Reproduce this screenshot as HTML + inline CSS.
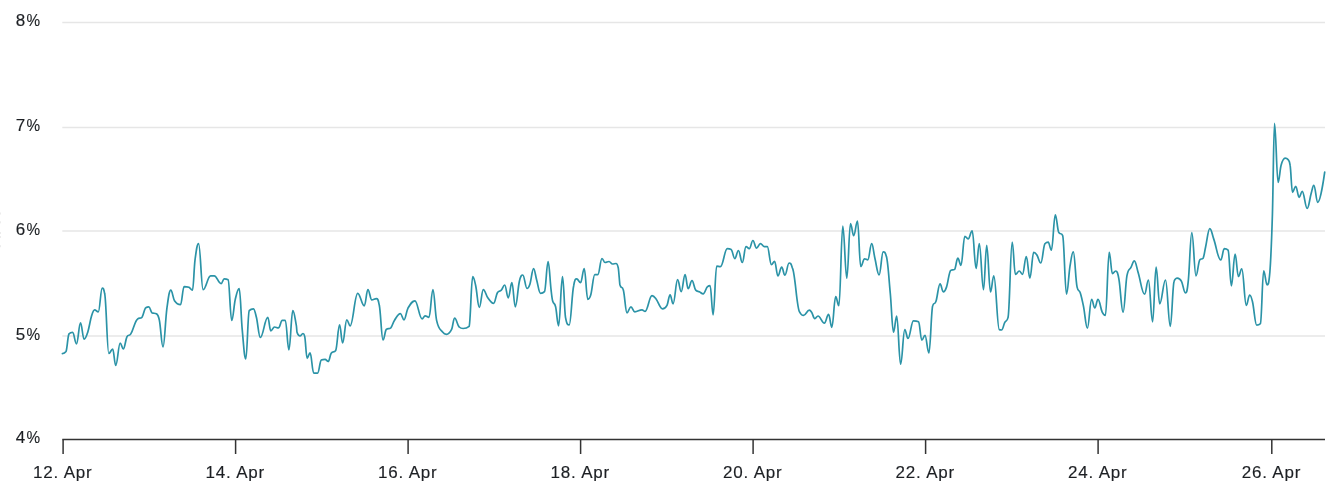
<!DOCTYPE html>
<html><head><meta charset="utf-8"><style>
html,body{margin:0;padding:0;background:#fff;width:1340px;height:498px;overflow:hidden}
svg{display:block;will-change:transform;font-family:"Liberation Sans",sans-serif}
</style></head><body>
<svg width="1340" height="498" viewBox="0 0 1340 498">
<g>
<path d="M62.3 22.56H1325" stroke="#e6e6e6" stroke-width="1.5"/>
<path d="M62.3 127.56H1325" stroke="#e6e6e6" stroke-width="1.5"/>
<path d="M62.3 231.06H1325" stroke="#e6e6e6" stroke-width="1.5"/>
<path d="M62.3 336.06H1325" stroke="#e6e6e6" stroke-width="1.5"/>
<path d="M62.3 439.56H1325" stroke="#333" stroke-width="1.5"/>
<path d="M63.10 439.56V454" stroke="#333" stroke-width="1.5"/>
<path d="M235.60 439.56V454" stroke="#333" stroke-width="1.5"/>
<path d="M408.10 439.56V454" stroke="#333" stroke-width="1.5"/>
<path d="M580.60 439.56V454" stroke="#333" stroke-width="1.5"/>
<path d="M753.10 439.56V454" stroke="#333" stroke-width="1.5"/>
<path d="M925.60 439.56V454" stroke="#333" stroke-width="1.5"/>
<path d="M1098.10 439.56V454" stroke="#333" stroke-width="1.5"/>
<path d="M1271.80 439.56V454" stroke="#333" stroke-width="1.5"/>
<path d="M62.40 353.60 C62.40 353.60 64.56 353.60 66.00 351.50 C67.20 349.40 67.80 335.40 69.00 333.90 C70.44 332.40 71.16 332.40 72.60 332.40 C74.16 332.40 74.94 343.80 76.50 343.80 C78.10 343.80 78.90 322.80 80.50 322.80 C81.94 322.80 82.66 339.20 84.10 339.20 C85.54 339.20 86.26 336.89 87.70 332.40 C89.26 327.53 90.04 320.91 91.60 315.80 C92.80 311.87 93.40 309.80 94.60 309.80 C96.08 309.80 96.82 311.90 98.30 311.90 C99.86 311.90 100.64 288.10 102.20 288.10 C103.16 288.10 103.64 288.10 104.60 293.30 C106.28 298.50 107.12 353.50 108.80 353.50 C110.36 353.50 111.14 349.00 112.70 349.00 C113.90 349.00 114.50 365.50 115.70 365.50 C117.50 365.50 118.40 343.00 120.20 343.00 C121.44 343.00 122.06 349.00 123.30 349.00 C124.74 349.00 125.46 339.90 126.90 336.90 C128.46 333.90 129.24 336.50 130.80 333.90 C133.56 329.30 134.94 320.50 137.70 318.90 C139.38 317.30 140.22 318.90 141.90 317.30 C143.46 315.70 144.24 308.60 145.80 307.70 C147.04 306.80 147.66 306.80 148.90 306.80 C150.10 306.80 150.70 311.90 151.90 312.80 C153.70 313.70 154.60 312.80 156.40 313.70 C157.60 314.60 158.20 314.36 159.40 320.40 C160.84 327.64 161.56 346.90 163.00 346.90 C164.56 346.90 165.34 319.64 166.90 308.30 C168.46 296.96 169.24 290.20 170.80 290.20 C172.28 290.20 173.02 298.59 174.50 300.80 C176.90 304.39 178.10 304.70 180.50 304.70 C181.94 304.70 182.66 286.60 184.10 286.60 C186.02 286.60 186.98 286.60 188.90 287.20 C190.34 287.80 191.06 290.20 192.50 290.20 C193.50 290.20 194.00 267.74 195.00 260.10 C196.44 249.10 197.16 243.60 198.60 243.60 C200.40 243.60 201.30 289.60 203.10 289.60 C206.10 289.60 207.60 275.80 210.60 275.80 C212.04 275.80 212.76 275.80 214.20 275.80 C216.96 275.80 218.34 283.60 221.10 283.60 C222.34 283.60 222.96 278.80 224.20 278.80 C225.76 278.80 226.54 278.80 228.10 279.70 C229.54 280.60 230.26 320.40 231.70 320.40 C233.14 320.40 233.86 305.39 235.30 299.30 C236.86 292.71 237.64 288.70 239.20 288.70 C240.40 288.70 241.00 316.64 242.20 329.40 C243.64 344.72 244.36 358.90 245.80 358.90 C247.16 358.90 247.84 312.50 249.20 310.70 C250.88 308.90 251.72 308.90 253.40 308.90 C254.60 308.90 255.20 312.33 256.40 317.30 C257.96 323.77 258.74 337.50 260.30 337.50 C263.30 337.50 264.80 317.30 267.80 317.30 C269.00 317.30 269.60 330.90 270.80 330.90 C272.28 330.90 273.02 327.00 274.50 327.00 C276.06 327.00 276.84 327.90 278.40 327.90 C279.96 327.90 280.74 320.40 282.30 320.40 C283.50 320.40 284.10 320.40 285.30 320.40 C286.74 320.40 287.46 349.90 288.90 349.90 C290.46 349.90 291.24 310.70 292.80 310.70 C294.24 310.70 294.96 318.43 296.40 325.80 C296.64 327.03 296.76 331.52 297.00 332.20 C298.20 335.60 298.80 336.00 300.00 336.00 C301.20 336.00 301.80 333.50 303.00 333.50 C303.64 333.50 303.96 333.50 304.60 336.00 C305.60 338.50 306.10 358.30 307.10 358.30 C308.30 358.30 308.90 352.90 310.10 352.90 C311.54 352.90 312.26 373.10 313.70 373.10 C315.26 373.10 316.04 373.10 317.60 373.10 C319.08 373.10 319.82 360.70 321.30 360.00 C322.82 359.30 323.58 359.30 325.10 359.30 C326.34 359.30 326.96 361.50 328.20 361.50 C329.40 361.50 330.00 355.06 331.20 353.30 C333.00 350.66 333.90 353.30 335.70 350.50 C337.26 347.70 338.04 324.90 339.60 324.90 C340.80 324.90 341.40 343.00 342.60 343.00 C344.28 343.00 345.12 319.80 346.80 319.80 C348.12 319.80 348.78 325.80 350.10 325.80 C353.14 325.80 354.66 293.30 357.70 293.30 C360.34 293.30 361.66 305.90 364.30 305.90 C365.74 305.90 366.46 289.60 367.90 289.60 C369.46 289.60 370.24 299.90 371.80 299.90 C373.60 299.90 374.50 298.70 376.30 298.70 C377.50 298.70 378.10 298.70 379.30 305.30 C380.78 311.90 381.52 339.90 383.00 339.90 C384.32 339.90 384.98 330.90 386.30 329.40 C388.10 327.90 389.00 329.40 390.80 327.90 C392.24 326.40 392.96 322.53 394.40 320.40 C396.80 316.85 398.00 313.70 400.40 313.70 C401.84 313.70 402.56 319.80 404.00 319.80 C405.56 319.80 406.34 311.02 407.90 308.30 C410.70 303.42 412.10 300.80 414.90 300.80 C417.78 300.80 419.22 318.90 422.10 318.90 C423.30 318.90 423.90 315.80 425.10 315.80 C426.66 315.80 427.44 317.30 429.00 317.30 C430.56 317.30 431.34 289.60 432.90 289.60 C434.38 289.60 435.12 313.93 436.60 320.40 C439.00 330.89 440.20 328.63 442.60 332.00 C444.16 334.19 444.94 334.30 446.50 334.30 C448.54 334.30 449.56 333.51 451.60 329.40 C452.80 326.99 453.40 318.00 454.60 318.00 C456.44 318.00 457.36 325.50 459.20 327.00 C460.76 328.50 461.54 328.50 463.10 328.50 C465.50 328.50 466.70 328.50 469.10 326.40 C470.54 324.30 471.26 276.70 472.70 276.70 C473.90 276.70 474.50 280.12 475.70 285.70 C477.14 292.40 477.86 307.40 479.30 307.40 C480.90 307.40 481.70 289.60 483.30 289.60 C485.10 289.60 486.00 295.39 487.80 297.80 C490.12 300.91 491.28 303.40 493.60 303.40 C495.12 303.40 495.88 295.20 497.40 292.70 C498.96 290.20 499.74 291.85 501.30 290.20 C502.66 288.77 503.34 285.00 504.70 285.00 C506.14 285.00 506.86 297.80 508.30 297.80 C509.74 297.80 510.46 282.70 511.90 282.70 C513.26 282.70 513.94 306.80 515.30 306.80 C516.94 306.80 517.76 288.15 519.40 281.20 C520.76 275.43 521.44 275.00 522.80 275.00 C524.48 275.00 525.32 288.40 527.00 288.40 C528.16 288.40 528.74 287.68 529.90 284.20 C531.38 279.76 532.12 268.60 533.60 268.60 C534.80 268.60 535.40 275.40 536.60 279.70 C538.16 285.28 538.94 293.30 540.50 293.30 C542.10 293.30 542.90 293.30 544.50 291.70 C545.94 290.10 546.66 261.60 548.10 261.60 C549.30 261.60 549.90 279.75 551.10 290.20 C551.70 295.43 552.00 298.59 552.60 300.80 C553.80 305.23 554.40 301.80 555.60 306.80 C556.80 311.80 557.40 325.80 558.60 325.80 C560.16 325.80 560.94 276.70 562.50 276.70 C563.70 276.70 564.30 309.70 565.50 317.30 C566.98 324.90 567.72 324.90 569.20 324.90 C571.00 324.90 571.90 292.60 573.70 285.70 C574.90 278.80 575.50 278.80 576.70 278.80 C578.26 278.80 579.04 282.70 580.60 282.70 C582.04 282.70 582.76 268.60 584.20 268.60 C585.64 268.60 586.36 299.30 587.80 299.30 C589.00 299.30 589.60 299.03 590.80 294.80 C592.40 289.15 593.20 274.60 594.80 274.60 C596.00 274.60 596.60 274.60 597.80 274.60 C599.48 274.60 600.32 258.50 602.00 258.50 C603.20 258.50 603.80 262.50 605.00 262.50 C606.60 262.50 607.40 261.50 609.00 261.50 C610.40 261.50 611.10 264.00 612.50 264.00 C613.90 264.00 614.60 263.50 616.00 263.50 C616.92 263.50 617.38 263.50 618.30 268.00 C618.90 272.50 619.20 278.20 619.80 284.20 C621.24 290.20 621.96 284.48 623.40 290.20 C624.84 295.92 625.56 312.80 627.00 312.80 C628.56 312.80 629.34 306.80 630.90 306.80 C632.46 306.80 633.24 311.90 634.80 311.90 C637.68 311.90 639.12 309.80 642.00 309.80 C643.24 309.80 643.86 311.30 645.10 311.30 C647.86 311.30 649.24 295.70 652.00 295.70 C653.56 295.70 654.34 296.74 655.90 298.70 C658.54 302.02 659.86 308.90 662.50 308.90 C664.30 308.90 665.20 308.64 667.00 305.30 C668.24 303.00 668.86 294.80 670.10 294.80 C671.30 294.80 671.90 303.80 673.10 303.80 C674.90 303.80 675.80 279.70 677.60 279.70 C679.04 279.70 679.76 291.70 681.20 291.70 C682.76 291.70 683.54 274.60 685.10 274.60 C686.30 274.60 686.90 288.70 688.10 288.70 C689.66 288.70 690.44 280.60 692.00 280.60 C693.48 280.60 694.22 288.70 695.70 290.20 C697.14 291.70 697.86 290.99 699.30 291.70 C700.86 292.47 701.64 293.90 703.20 293.90 C705.00 293.90 705.90 287.50 707.70 286.60 C708.66 285.70 709.14 285.70 710.10 285.70 C711.30 285.70 711.90 314.90 713.10 314.90 C714.54 314.90 715.26 266.10 716.70 266.10 C718.18 266.10 718.92 266.70 720.40 266.70 C723.16 266.70 724.54 248.70 727.30 248.70 C728.86 248.70 729.64 248.70 731.20 249.60 C732.64 250.50 733.36 258.60 734.80 258.60 C736.24 258.60 736.96 250.50 738.40 250.50 C739.96 250.50 740.74 262.50 742.30 262.50 C743.78 262.50 744.52 246.60 746.00 246.60 C747.32 246.60 747.98 248.70 749.30 248.70 C750.74 248.70 751.46 240.50 752.90 240.50 C754.34 240.50 755.06 248.10 756.50 248.10 C758.06 248.10 758.84 243.60 760.40 243.60 C761.96 243.60 762.74 246.60 764.30 246.60 C765.50 246.60 766.10 246.60 767.30 246.60 C768.94 246.60 769.76 264.60 771.40 264.60 C772.68 264.60 773.32 261.40 774.60 261.40 C775.92 261.40 776.58 275.90 777.90 275.90 C779.42 275.90 780.18 267.20 781.70 267.20 C782.98 267.20 783.62 275.20 784.90 275.20 C786.58 275.20 787.42 263.00 789.10 263.00 C790.38 263.00 791.02 263.00 792.30 267.80 C795.26 272.60 796.74 309.00 799.70 312.20 C801.26 315.40 802.04 315.40 803.60 315.40 C805.88 315.40 807.02 310.20 809.30 310.20 C810.22 310.20 810.68 310.79 811.60 312.20 C812.88 314.15 813.52 318.60 814.80 318.60 C816.08 318.60 816.72 316.00 818.00 316.00 C820.56 316.00 821.84 323.10 824.40 323.10 C826.08 323.10 826.92 314.40 828.60 314.40 C829.88 314.40 830.52 327.30 831.80 327.30 C833.36 327.30 834.14 296.70 835.70 296.70 C836.98 296.70 837.62 305.70 838.90 305.70 C840.46 305.70 841.24 226.10 842.80 226.10 C844.40 226.10 845.20 278.20 846.80 278.20 C848.28 278.20 849.02 223.50 850.50 223.50 C851.78 223.50 852.42 235.70 853.70 235.70 C855.22 235.70 855.98 221.20 857.50 221.20 C858.78 221.20 859.42 266.50 860.70 266.50 C862.26 266.50 863.04 258.80 864.60 258.80 C865.88 258.80 866.52 259.80 867.80 259.80 C869.36 259.80 870.14 243.70 871.70 243.70 C872.98 243.70 873.62 252.80 874.90 258.20 C876.58 265.28 877.42 274.90 879.10 274.90 C880.74 274.90 881.56 251.80 883.20 251.80 C884.48 251.80 885.12 251.80 886.40 256.60 C887.96 261.40 888.74 276.91 890.30 293.50 C891.58 307.11 892.22 332.10 893.50 332.10 C894.78 332.10 895.42 316.00 896.70 316.00 C898.26 316.00 899.04 364.20 900.60 364.20 C902.28 364.20 903.12 329.50 904.80 329.50 C906.08 329.50 906.72 338.50 908.00 338.50 C910.16 338.50 911.24 320.80 913.40 320.80 C915.48 320.80 916.52 320.80 918.60 321.80 C919.88 322.80 920.52 340.10 921.80 340.10 C923.08 340.10 923.72 335.30 925.00 335.30 C926.56 335.30 927.34 353.00 928.90 353.00 C930.42 353.00 931.18 309.80 932.70 305.70 C933.98 301.60 934.62 305.37 935.90 301.60 C937.58 296.65 938.42 283.90 940.10 283.90 C941.38 283.90 942.02 291.90 943.30 291.90 C944.58 291.90 945.22 290.82 946.50 287.10 C948.18 282.22 949.02 271.40 950.70 270.40 C952.26 269.40 953.04 270.40 954.60 269.40 C955.88 268.40 956.52 258.20 957.80 258.20 C959.08 258.20 959.72 265.30 961.00 265.30 C962.52 265.30 963.28 236.30 964.80 236.30 C966.12 236.30 966.78 238.90 968.10 238.90 C969.74 238.90 970.56 230.90 972.20 230.90 C973.76 230.90 974.54 268.50 976.10 268.50 C977.38 268.50 978.02 243.70 979.30 243.70 C980.98 243.70 981.82 289.70 983.50 289.70 C984.78 289.70 985.42 245.30 986.70 245.30 C988.22 245.30 988.98 291.90 990.50 291.90 C991.82 291.90 992.48 275.90 993.80 275.90 C996.00 275.90 997.10 329.20 999.30 329.60 C1000.22 330.00 1000.68 330.00 1001.60 330.00 C1002.88 330.00 1003.52 324.88 1004.80 322.40 C1006.08 319.92 1006.72 322.40 1008.00 317.60 C1009.68 312.80 1010.52 242.10 1012.20 242.10 C1013.48 242.10 1014.12 274.30 1015.40 274.30 C1016.96 274.30 1017.74 271.00 1019.30 271.00 C1020.58 271.00 1021.22 274.30 1022.50 274.30 C1024.02 274.30 1024.78 256.60 1026.30 256.60 C1027.74 256.60 1028.46 278.10 1029.90 278.10 C1031.42 278.10 1032.18 252.40 1033.70 252.40 C1034.98 252.40 1035.62 253.09 1036.90 255.00 C1038.46 257.33 1039.24 263.00 1040.80 263.00 C1042.48 263.00 1043.32 245.30 1045.00 243.70 C1046.28 242.10 1046.92 242.10 1048.20 242.10 C1049.48 242.10 1050.12 250.20 1051.40 250.20 C1052.96 250.20 1053.74 214.80 1055.30 214.80 C1056.58 214.80 1057.22 227.90 1058.50 231.80 C1060.18 235.70 1061.02 231.80 1062.70 235.70 C1064.22 239.60 1064.98 294.20 1066.50 294.20 C1067.90 294.20 1068.60 274.93 1070.00 266.20 C1071.32 257.97 1071.98 251.80 1073.30 251.80 C1074.82 251.80 1075.58 281.30 1077.10 287.10 C1078.38 292.90 1079.02 289.04 1080.30 292.90 C1081.58 296.76 1082.22 300.04 1083.50 306.40 C1085.06 314.16 1085.84 328.20 1087.40 328.20 C1089.08 328.20 1089.92 299.30 1091.60 299.30 C1092.88 299.30 1093.52 308.00 1094.80 308.00 C1096.08 308.00 1096.72 299.30 1098.00 299.30 C1099.68 299.30 1100.52 308.54 1102.20 312.20 C1103.48 314.98 1104.12 315.40 1105.40 315.40 C1106.92 315.40 1107.68 252.40 1109.20 252.40 C1110.48 252.40 1111.12 273.60 1112.40 273.60 C1113.72 273.60 1114.38 271.00 1115.70 271.00 C1116.98 271.00 1117.62 271.97 1118.90 279.10 C1120.58 288.45 1121.42 312.20 1123.10 312.20 C1124.62 312.20 1125.38 284.60 1126.90 275.90 C1128.58 267.20 1129.42 270.63 1131.10 267.20 C1132.38 264.59 1133.02 260.80 1134.30 260.80 C1135.86 260.80 1136.64 267.64 1138.20 272.70 C1140.76 281.00 1142.04 294.20 1144.60 294.20 C1146.12 294.20 1146.88 280.00 1148.40 280.00 C1150.08 280.00 1150.92 321.80 1152.60 321.80 C1154.00 321.80 1154.70 267.20 1156.10 267.20 C1157.54 267.20 1158.26 303.80 1159.70 303.80 C1162.02 303.80 1163.18 280.00 1165.50 280.00 C1167.42 280.00 1168.38 326.30 1170.30 326.30 C1171.82 326.30 1172.58 284.50 1174.10 281.30 C1175.38 278.10 1176.02 278.10 1177.30 278.10 C1178.98 278.10 1179.82 278.23 1181.50 281.30 C1183.06 284.15 1183.84 292.90 1185.40 292.90 C1186.44 292.90 1186.96 292.90 1188.00 283.30 C1189.52 273.70 1190.28 232.50 1191.80 232.50 C1193.48 232.50 1194.32 275.90 1196.00 275.90 C1197.52 275.90 1198.28 261.40 1199.80 259.80 C1201.12 258.20 1201.78 259.80 1203.10 258.20 C1204.10 256.60 1204.60 251.42 1205.60 247.00 C1207.28 239.58 1208.12 228.60 1209.80 228.60 C1211.36 228.60 1212.14 234.45 1213.70 238.90 C1216.54 247.01 1217.96 260.00 1220.80 260.00 C1222.20 260.00 1222.90 248.60 1224.30 248.60 C1225.82 248.60 1226.58 248.60 1228.10 250.20 C1229.42 251.80 1230.08 285.70 1231.40 285.70 C1232.88 285.70 1233.62 254.00 1235.10 254.00 C1236.42 254.00 1237.08 276.50 1238.40 276.50 C1239.76 276.50 1240.44 268.90 1241.80 268.90 C1243.60 268.90 1244.50 305.40 1246.30 305.40 C1247.66 305.40 1248.34 295.00 1249.70 295.00 C1250.82 295.00 1251.38 296.98 1252.50 301.80 C1254.18 309.02 1255.02 325.10 1256.70 325.10 C1258.18 325.10 1258.92 325.10 1260.40 323.70 C1261.72 322.30 1262.38 270.80 1263.70 270.80 C1265.06 270.80 1265.74 284.90 1267.10 284.90 C1268.22 284.90 1268.78 284.90 1269.90 271.70 C1270.90 258.50 1271.40 247.24 1272.40 215.00 C1273.24 187.92 1273.66 123.40 1274.50 123.40 C1275.94 123.40 1276.66 182.30 1278.10 182.30 C1279.30 182.30 1279.90 169.33 1281.10 165.20 C1282.70 159.69 1283.50 158.20 1285.10 158.20 C1286.30 158.20 1286.90 158.20 1288.10 159.60 C1288.90 161.00 1289.30 159.60 1290.10 165.20 C1291.06 170.80 1291.54 192.30 1292.50 192.30 C1293.78 192.30 1294.42 186.30 1295.70 186.30 C1297.10 186.30 1297.80 197.30 1299.20 197.30 C1300.40 197.30 1301.00 191.30 1302.20 191.30 C1304.20 191.30 1305.20 208.40 1307.20 208.40 C1308.80 208.40 1309.60 198.90 1311.20 193.30 C1312.24 189.66 1312.76 185.30 1313.80 185.30 C1315.40 185.30 1316.20 202.30 1317.80 202.30 C1320.56 202.30 1324.70 172.20 1324.70 172.20" fill="none" stroke="#2b93a7" stroke-width="1.7" stroke-linejoin="round" stroke-linecap="round"/>
<rect x="0" y="212.5" width="1" height="2" fill="#ececec"/>
<rect x="0" y="221.3" width="1" height="2" fill="#ececec"/>
<rect x="0" y="232" width="1" height="2" fill="#ececec"/>
<rect x="0" y="236" width="1" height="2" fill="#ececec"/>
<rect x="0" y="245.2" width="1" height="2" fill="#ececec"/>
<text x="25.2" y="25.85" text-anchor="end" font-size="17" fill="#1c1f23" stroke="#1c1f23" stroke-width="0.15">8</text>
<text transform="translate(40 25.85) scale(0.9 1)" text-anchor="end" font-size="17" fill="#1c1f23" stroke="#1c1f23" stroke-width="0.15">%</text>
<text x="25.2" y="131.0" text-anchor="end" font-size="17" fill="#1c1f23" stroke="#1c1f23" stroke-width="0.15">7</text>
<text transform="translate(40 131.0) scale(0.9 1)" text-anchor="end" font-size="17" fill="#1c1f23" stroke="#1c1f23" stroke-width="0.15">%</text>
<text x="25.2" y="235.1" text-anchor="end" font-size="17" fill="#1c1f23" stroke="#1c1f23" stroke-width="0.15">6</text>
<text transform="translate(40 235.1) scale(0.9 1)" text-anchor="end" font-size="17" fill="#1c1f23" stroke="#1c1f23" stroke-width="0.15">%</text>
<text x="25.2" y="339.95000000000005" text-anchor="end" font-size="17" fill="#1c1f23" stroke="#1c1f23" stroke-width="0.15">5</text>
<text transform="translate(40 339.95000000000005) scale(0.9 1)" text-anchor="end" font-size="17" fill="#1c1f23" stroke="#1c1f23" stroke-width="0.15">%</text>
<text x="25.2" y="443.0" text-anchor="end" font-size="17" fill="#1c1f23" stroke="#1c1f23" stroke-width="0.15">4</text>
<text transform="translate(40 443.0) scale(0.9 1)" text-anchor="end" font-size="17" fill="#1c1f23" stroke="#1c1f23" stroke-width="0.15">%</text>
<text x="62.8" y="478" text-anchor="middle" font-size="17" letter-spacing="0.8" fill="#1c1f23" stroke="#1c1f23" stroke-width="0.15">12. Apr</text>
<text x="235.3" y="478" text-anchor="middle" font-size="17" letter-spacing="0.8" fill="#1c1f23" stroke="#1c1f23" stroke-width="0.15">14. Apr</text>
<text x="407.8" y="478" text-anchor="middle" font-size="17" letter-spacing="0.8" fill="#1c1f23" stroke="#1c1f23" stroke-width="0.15">16. Apr</text>
<text x="580.3" y="478" text-anchor="middle" font-size="17" letter-spacing="0.8" fill="#1c1f23" stroke="#1c1f23" stroke-width="0.15">18. Apr</text>
<text x="752.8" y="478" text-anchor="middle" font-size="17" letter-spacing="0.8" fill="#1c1f23" stroke="#1c1f23" stroke-width="0.15">20. Apr</text>
<text x="925.3" y="478" text-anchor="middle" font-size="17" letter-spacing="0.8" fill="#1c1f23" stroke="#1c1f23" stroke-width="0.15">22. Apr</text>
<text x="1097.8" y="478" text-anchor="middle" font-size="17" letter-spacing="0.8" fill="#1c1f23" stroke="#1c1f23" stroke-width="0.15">24. Apr</text>
<text x="1271.5" y="478" text-anchor="middle" font-size="17" letter-spacing="0.8" fill="#1c1f23" stroke="#1c1f23" stroke-width="0.15">26. Apr</text>
</g></svg>
</body></html>
